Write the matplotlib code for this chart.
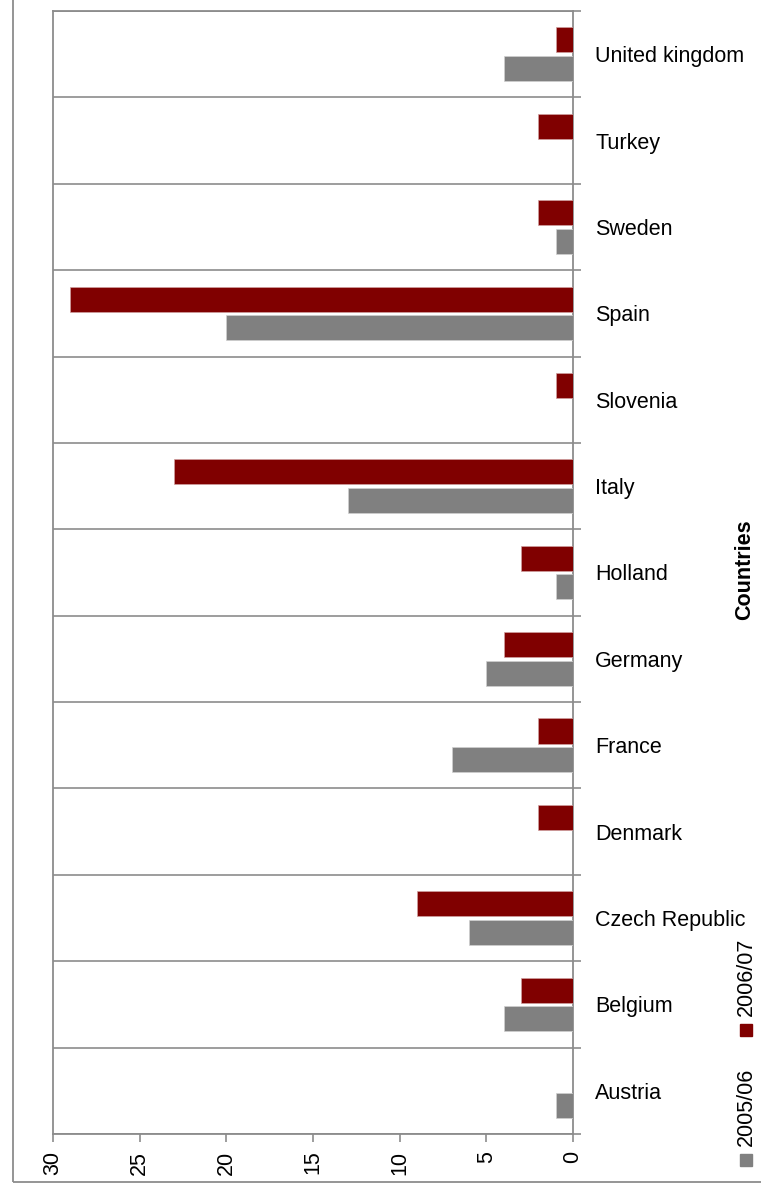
import numpy as np
import matplotlib.pyplot as plt
from matplotlib.patches import Rectangle

plt.rcParams['font.family'] = ['Liberation Sans', 'DejaVu Sans']

countries = ["Austria", "Belgium", "Czech Republic", "Denmark", "France", "Germany",
             "Holland", "Italy", "Slovenia", "Spain", "Sweden", "Turkey", "United kingdom"]
y_2005_06 = [1, 4, 6, 0, 7, 5, 1, 13, 0, 20, 1, 0, 4]
y_2006_07 = [0, 3, 9, 2, 2, 4, 3, 23, 1, 29, 2, 2, 1]
series_names = ["2005/06", "2006/07"]
colors = ["#808080", "#800000"]
x_ticks = [0, 5, 10, 15, 20, 25, 30]

W, H = 761, 1192
fig = plt.figure(figsize=(W / 100, H / 100), dpi=100)
ax = fig.add_axes([53 / W, 1 - 1134 / H, (573 - 53) / W, (1134 - 11) / H])

pos = np.arange(len(countries))
h = 0.29
ax.barh(pos - 0.165, y_2005_06, height=h, color=colors[0], edgecolor="#d0d0d0", linewidth=0.5, zorder=3)
ax.barh(pos + 0.165, y_2006_07, height=h, color=colors[1], edgecolor="#d0a0a0", linewidth=0.5, zorder=3)

ax.set_xlim(30, 0)
ax.set_ylim(-0.5, len(countries) - 0.5)

grey = "#8c8c8c"
for s in ax.spines.values():
    s.set_color(grey)
    s.set_linewidth(1.3)

# category axis on the right
ax.yaxis.tick_right()
ax.set_yticks(pos)
ax.set_yticklabels(countries, fontsize=15.5, ha="left")
ax.set_yticks(np.arange(len(countries) + 1) - 0.5, minor=True)
ax.tick_params(axis="y", which="major", length=0, pad=16)
ax.tick_params(axis="y", which="minor", length=6, color=grey, width=1.2, direction="out")
ax.grid(axis="y", which="minor", color=grey, linewidth=1.2, zorder=1)

ax.set_xticks(x_ticks)
ax.set_xticklabels([str(t) for t in x_ticks], rotation=90, fontsize=15.5, va="top")
ax.tick_params(axis="x", length=6, color=grey, width=1.2, direction="out", pad=6)

# outer chart frame
fig.patches.append(Rectangle((13 / W, 1 - 1182 / H), 1, 1182 / H + 0.05, transform=fig.transFigure,
                             fill=False, edgecolor=grey, linewidth=1.3))

fig.text(745 / W, 1 - 570 / H, "Countries", rotation=90, fontsize=15.5, fontweight="bold",
         ha="center", va="center")

# legend (rotated)
for name, c, ysq in zip(series_names, colors, [1160, 1030]):
    fig.patches.append(Rectangle((740 / W, 1 - (ysq + 6) / H), 12 / W, 12 / H,
                                 transform=fig.transFigure, color=c))
    fig.text(746 / W, 1 - (ysq - 14) / H, name, rotation=90, fontsize=15.5,
             ha="center", va="bottom")

plt.savefig("out.png", dpi=100)
